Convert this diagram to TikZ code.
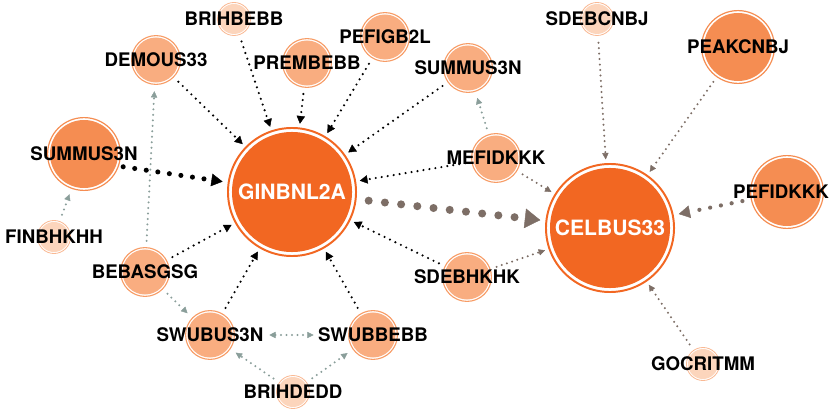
\documentclass[tikz,border=0pt]{standalone}
\usepackage{fontspec}
\setsansfont{TeX Gyre Heros}
\usetikzlibrary{arrows.meta}
\definecolor{hubc}{HTML}{F26722}
\definecolor{bigc}{HTML}{F58D52}
\definecolor{midc}{HTML}{F9AD80}
\definecolor{smlc}{HTML}{FCD5BC}
\definecolor{midring}{HTML}{F79C66}
\definecolor{smlring}{HTML}{F9B994}
\definecolor{taupe}{HTML}{7D6E66}
\definecolor{sage}{HTML}{8A9E9A}

\begin{document}
\begin{tikzpicture}[x=0.025cm, y=-0.025cm,
  lbl/.style={font=\sffamily\bfseries\fontsize{13.3}{15}\selectfont, inner sep=0pt},
  hublbl/.style={font=\sffamily\bfseries\fontsize{15}{17}\selectfont, text=white, inner sep=0pt},
  ring/.style={circle, inner sep=0pt, draw=#1},
  hub/.style={circle, inner sep=0pt, fill=hubc, minimum size=3cm,
    label={[ring=hubc, line width=1.4pt, minimum size=3.2cm]center:}},
  big/.style={circle, inner sep=0pt, fill=bigc, minimum size=1.7cm,
    label={[ring=bigc, line width=.85pt, minimum size=1.82cm]center:}},
  mid/.style={circle, inner sep=0pt, fill=midc, minimum size=1.125cm,
    label={[ring=midring, line width=.8pt, minimum size=1.22cm]center:}},
  sml/.style={circle, inner sep=0pt, fill=smlc, minimum size=.75cm,
    label={[ring=smlring, line width=.6pt, minimum size=.825cm]center:}},
  blk/.style={black, line width=1.7pt, line cap=round, dash pattern=on 0pt off 4.3pt,
    >={Triangle[length=5.5pt, width=6pt, line width=.3pt]}, ->, shorten <=6pt, shorten >=6pt},
  blkbig/.style={black, line width=3.6pt, line cap=round, dash pattern=on 0pt off 8.3pt,
    >={Triangle[length=8pt, width=9pt, line width=.3pt]}, ->, shorten <=5pt, shorten >=7pt},
  tau/.style={taupe, line width=1.6pt, line cap=round, dash pattern=on 0pt off 3.9pt,
    >={Triangle[length=4.5pt, width=4.5pt, line width=.3pt]}, ->, shorten <=6pt, shorten >=6pt},
  taumid/.style={taupe, line width=3pt, line cap=round, dash pattern=on 0pt off 7.8pt,
    >={Triangle[length=8pt, width=9pt, line width=.3pt]}, ->, shorten <=8pt, shorten >=7pt},
  taubig/.style={taupe, line width=5.7pt, line cap=round, dash pattern=on 0pt off 11.6pt,
    >={Triangle[length=11pt, width=14pt, line width=.3pt]}, ->, shorten <=12pt, shorten >=7pt},
  grn/.style={sage, line width=1.6pt, line cap=round, dash pattern=on 0pt off 3.9pt,
    >={Triangle[length=4.5pt, width=4.5pt, line width=.3pt]}, ->, shorten <=6pt, shorten >=6pt}]
  \useasboundingbox (0,0) rectangle (832,412);

  % hubs
  \node[hub, label={[hublbl]center:GINBNL2A}] (gin) at (292,192) {};
  \node[hub, label={[hublbl]center:CELBUS33}] (cel) at (610,228) {};

  % sources
  \node[big, label={[lbl]center:SUMMUS3N}] (summl) at (84,154) {};
  \node[big, label={[lbl]center:PEAKCNBJ}] (peak) at (738,47) {};
  \node[big, label={[lbl, xshift=-.15cm]center:PEFIDKKK}] (pefid) at (787,192) {};
  \node[mid, label={[lbl]center:DEMOUS33}] (demo) at (156,60) {};
  \node[mid, label={[lbl]center:PREMBEBB}] (prem) at (307,63) {};
  \node[mid, label={[lbl]center:PEFIGB2L}] (pefig) at (385,37) {};
  \node[mid, label={[lbl]center:SUMMUS3N}] (summr) at (468,68) {};
  \node[mid, label={[lbl]center:MEFIDKKK}] (mefid) at (496,158) {};
  \node[mid, label={[lbl]center:BEBASGSG}] (bebas) at (145,272) {};
  \node[mid, label={[lbl, name=swubut]center:SWUBUS3N}] (swubu) at (210,335) {};
  \node[mid, label={[lbl, name=swubbt]center:SWUBBEBB}] (swubb) at (373,335) {};
  \node[mid, label={[lbl]center:SDEBHKHK}] (sdebh) at (467,277) {};
  \node[sml, label={[lbl]center:BRIHBEBB}] (brihb) at (234,19) {};
  \node[sml, label={[lbl]center:SDEBCNBJ}] (sdebc) at (597,19) {};
  \node[sml, label={[lbl]center:FINBHKHH}] (finb) at (54,237) {};
  \node[sml, label={[lbl]center:BRIHDEDD}] (brihd) at (293,392) {};
  \node[sml, label={[lbl]center:GOCRITMM}] (gocr) at (703,364) {};

  % into GINBNL2A
  \foreach \src in {demo,brihb,prem,pefig,summr,mefid,sdebh,swubb,swubu,bebas}
    \draw[blk] (\src) -- (gin);
  \draw[blkbig] (summl.-20) -- (gin);

  % into CELBUS33
  \draw[taubig] (gin) -- (cel);
  \draw[taumid] (pefid) -- (cel);
  \foreach \src in {sdebc,peak,mefid,sdebh,gocr}
    \draw[tau] (\src) -- (cel);

  % among the sources
  \draw[grn] (finb) -- (summl);
  \draw[grn] (bebas) -- (demo);
  \draw[grn] (mefid) -- (summr);
  \draw[grn] (bebas) -- (swubu);
  \draw[grn, <->, shorten <=4pt, shorten >=3pt] (swubut) -- (swubbt);
  \draw[grn] (brihd) -- (swubu);
  \draw[grn] (brihd) -- (swubb);
\end{tikzpicture}
\end{document}
